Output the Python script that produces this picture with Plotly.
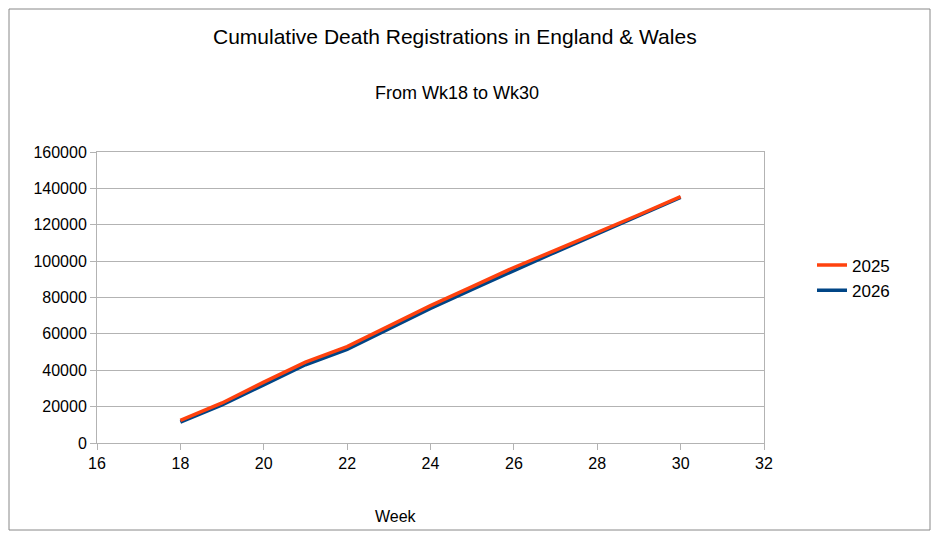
import plotly.graph_objects as go

weeks = [18, 19, 20, 21, 22, 23, 24, 25, 26, 27, 28, 29, 30]
deaths_2025 = [12500, 22000, 33500, 44500, 53000, 64500, 75500, 86000, 96500, 106000, 115500, 125500, 135500]
deaths_2026 = [11500, 21000, 32000, 43000, 51500, 63000, 74000, 84500, 95000, 105000, 115000, 125000, 135000]

# the page body has an 8px margin, so work in a 923x524 figure
W, H = 923, 524
L, R, T, B = 89, 167, 144, 89
PW, PH = W - L - R, H - T - B

def px(x, y):
    # reference-image pixel -> paper coords
    return (x - 8 - L) / PW, 1 - (y - 8 - T) / PH

fig = go.Figure()
fig.add_trace(go.Scatter(x=weeks, y=deaths_2026, name="2026", mode="lines",
                         line=dict(color="#004586", width=3.5)))
fig.add_trace(go.Scatter(x=weeks, y=deaths_2025, name="2025", mode="lines",
                         line=dict(color="#ff420e", width=3.5)))

annots = []
for text, x, y, size in [("Cumulative Death Registrations in England & Wales", 455, 36, 21),
                         ("From Wk18 to Wk30", 457, 93, 18),
                         ("Week", 396, 516, 16)]:
    ax, ay = px(x, y)
    annots.append(dict(text=text, x=ax, y=ay, xref="paper", yref="paper",
                       showarrow=False, font=dict(size=size),
                       xanchor="center", yanchor="middle"))

lx, ly = px(812, 278)
fig.update_layout(
    width=W, height=H,
    paper_bgcolor="white", plot_bgcolor="white",
    font=dict(family="Liberation Sans, Arial", size=16, color="black"),
    margin=dict(l=L, r=R, t=T, b=B, autoexpand=False),
    legend=dict(x=lx, y=ly, xanchor="left", yanchor="middle", traceorder="reversed",
                font=dict(size=17), bgcolor="rgba(0,0,0,0)"),
    annotations=annots,
)

fig.update_xaxes(range=[16, 32], dtick=2, showgrid=False, showline=True,
                 linecolor="#b3b3b3", mirror=True, ticks="outside",
                 tickcolor="#b3b3b3", ticklen=6, zeroline=False)
fig.update_yaxes(range=[0, 160000], dtick=20000, showgrid=True, gridcolor="#b3b3b3",
                 showline=True, linecolor="#b3b3b3", mirror=True, ticks="outside",
                 tickcolor="#b3b3b3", ticklen=6, zeroline=False, tickformat="d")

x0, y1 = px(9, 9)
x1, y0 = px(930, 530)
fig.add_shape(type="rect", xref="paper", yref="paper",
              x0=x0, x1=x1, y0=y0, y1=y1, line=dict(color="#888888", width=1))

fig.write_html("out.html")
